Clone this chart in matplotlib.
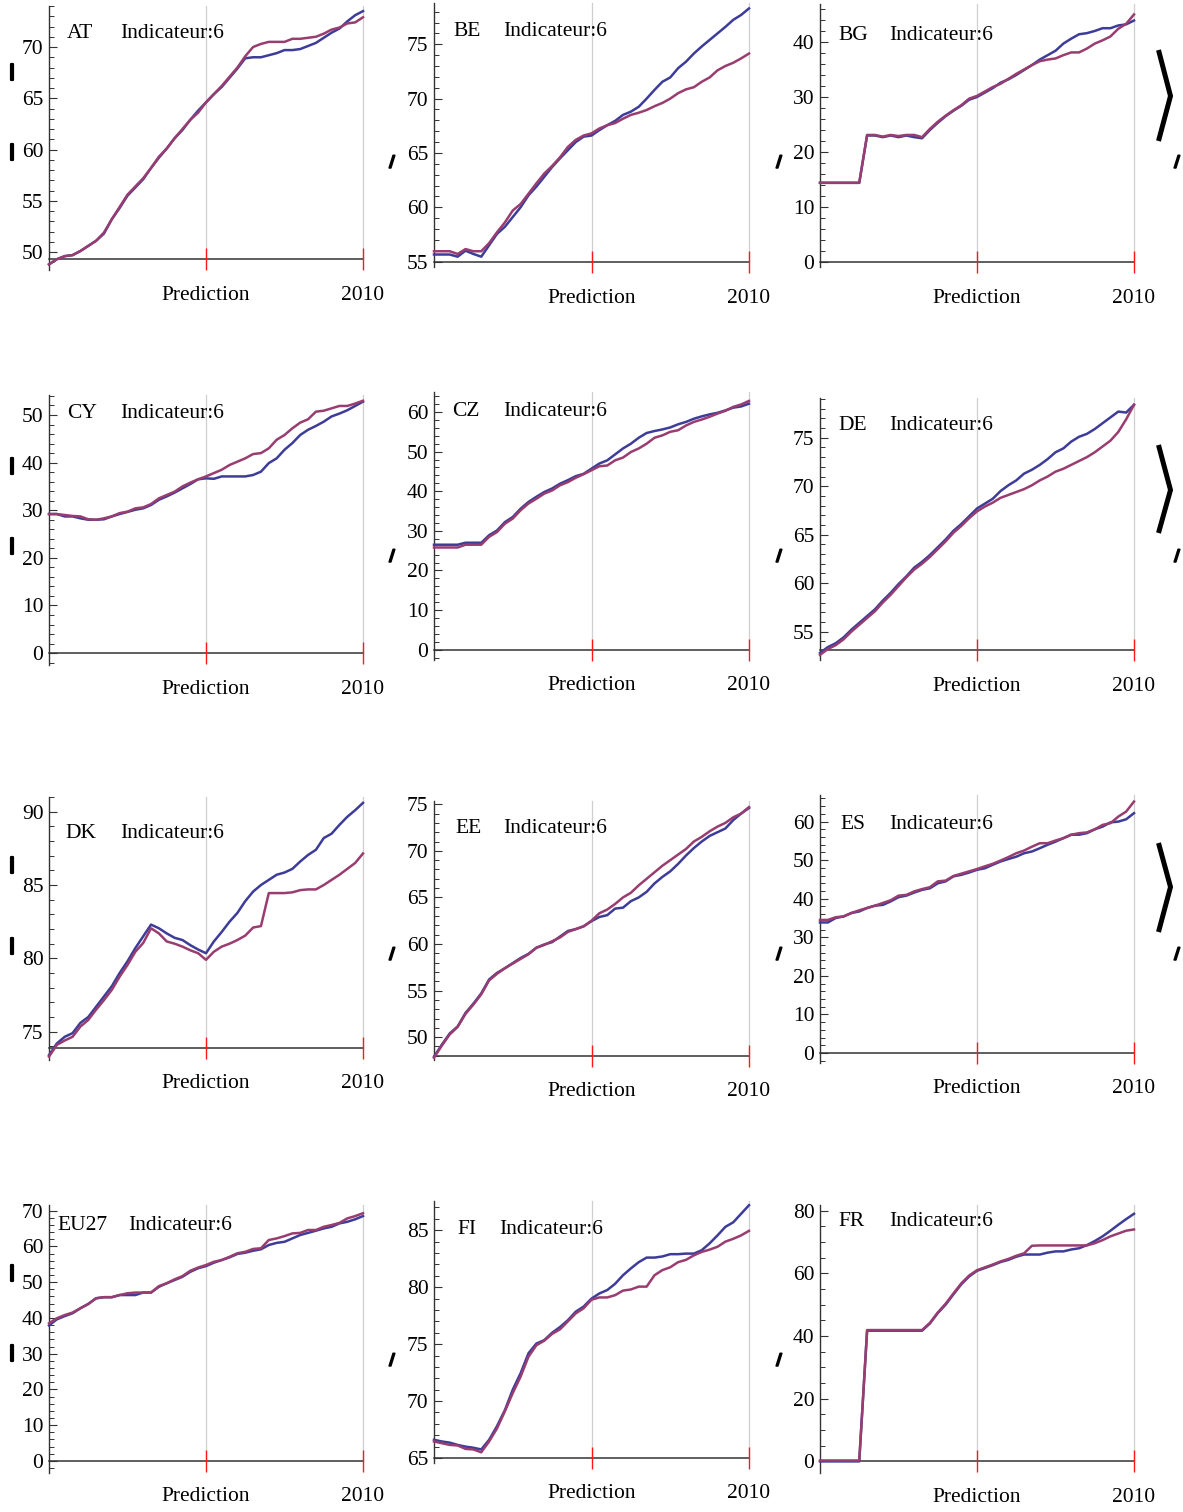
import numpy as np
import matplotlib
matplotlib.use("Agg")
import matplotlib.pyplot as plt
from matplotlib.lines import Line2D
from matplotlib.ticker import MultipleLocator
import matplotlib.patheffects as pe

plt.rcParams["font.family"] = ["Liberation Serif", "DejaVu Serif"]

W, H, DPI = 1183, 1512, 100

# ---------------------------------------------------------------- data
PERIOD = np.arange(41)          # quarter index, 2010 is the last one
PREDICTION_AT = 20
END_AT = 40
X_LABELS = ["Prediction", "2010"]
INDICATOR = "Indicateur:6"
CODES = ["AT", "BE", "BG", "CY", "CZ", "DE", "DK", "EE", "ES", "EU27", "FI", "FR"]

AT_S1 = [48.8, 49.3, 49.6, 49.7, 50.1, 50.6, 51.1, 51.8, 53.2, 54.3,
         55.5, 56.3, 57.1, 58.2, 59.2, 60.1, 61.1, 61.9, 62.9, 63.8,
         64.6, 65.4, 66.1, 67.0, 67.9, 68.9, 69.0, 69.0, 69.2, 69.4,
         69.7, 69.7, 69.8, 70.1, 70.4, 70.9, 71.4, 71.8, 72.5, 73.1, 73.5]
AT_S2 = [48.8, 49.3, 49.6, 49.7, 50.1, 50.6, 51.1, 51.9, 53.2, 54.4,
         55.6, 56.4, 57.2, 58.2, 59.3, 60.1, 61.1, 62.0, 62.9, 63.6,
         64.6, 65.4, 66.2, 67.1, 68.0, 69.1, 70.0, 70.3, 70.5, 70.5,
         70.5, 70.8, 70.8, 70.9, 71.0, 71.3, 71.7, 71.9, 72.3, 72.4, 72.9]

BE_S1 = [55.65, 55.65, 55.65, 55.45, 56.0, 55.7, 55.45, 56.5, 57.55, 58.2,
         59.1, 60.0, 61.1, 61.9, 62.8, 63.7, 64.5, 65.25, 66.0, 66.5,
         66.6, 67.1, 67.55, 67.95, 68.5, 68.8, 69.25, 70.0, 70.8, 71.55,
         71.95, 72.8, 73.4, 74.15, 74.8, 75.4, 76.0, 76.6, 77.25, 77.7, 78.3]
BE_S2 = [55.95, 55.95, 55.95, 55.7, 56.15, 55.95, 55.95, 56.7, 57.7, 58.6,
         59.7, 60.3, 61.25, 62.2, 63.1, 63.8, 64.6, 65.55, 66.2, 66.6,
         66.8, 67.25, 67.55, 67.75, 68.15, 68.5, 68.7, 68.95, 69.3, 69.6,
         70.0, 70.5, 70.85, 71.05, 71.55, 71.95, 72.6, 73.0, 73.3, 73.7, 74.15]

BG_S1 = [14.4, 14.4, 14.4, 14.4, 14.4, 14.4, 23.0, 23.0, 22.7, 23.0,
         22.7, 23.0, 22.7, 22.5, 24.0, 25.3, 26.5, 27.5, 28.4, 29.5,
         30.0, 30.8, 31.6, 32.6, 33.2, 34.0, 34.9, 35.8, 36.8, 37.6,
         38.4, 39.7, 40.6, 41.4, 41.6, 42.0, 42.5, 42.5, 43.0, 43.2, 43.9]
BG_S2 = [14.4, 14.4, 14.4, 14.4, 14.4, 14.4, 23.1, 23.1, 22.8, 23.1,
         22.9, 23.1, 23.1, 22.7, 24.2, 25.5, 26.6, 27.6, 28.5, 29.7,
         30.2, 31.0, 31.8, 32.4, 33.3, 34.2, 35.0, 35.8, 36.5, 36.8,
         37.0, 37.6, 38.1, 38.1, 38.8, 39.7, 40.3, 41.0, 42.4, 43.3, 45.0]

CY_S1 = [29.2, 29.2, 28.7, 28.7, 28.3, 28.0, 28.0, 28.1, 28.7, 29.2,
         29.65, 30.1, 30.4, 31.1, 32.2, 32.9, 33.7, 34.6, 35.5, 36.5,
         36.7, 36.6, 37.1, 37.1, 37.1, 37.1, 37.4, 38.1, 39.9, 40.9,
         42.7, 44.1, 45.8, 46.9, 47.7, 48.6, 49.7, 50.3, 51.0, 51.9, 52.8]
CY_S2 = [29.2, 29.2, 29.0, 28.8, 28.7, 28.1, 28.0, 28.3, 28.7, 29.4,
         29.7, 30.4, 30.6, 31.3, 32.5, 33.2, 33.9, 35.0, 35.8, 36.5,
         37.1, 37.8, 38.5, 39.5, 40.2, 40.9, 41.8, 42.0, 43.0, 44.8,
         45.8, 47.2, 48.4, 49.1, 50.7, 50.9, 51.4, 51.9, 51.9, 52.4, 53.0]

CZ_S1 = [26.5, 26.5, 26.5, 26.5, 27.0, 27.0, 27.0, 28.9, 30.1, 32.2,
         33.5, 35.6, 37.3, 38.6, 39.8, 40.7, 41.9, 42.8, 43.8, 44.4,
         45.7, 47.0, 47.8, 49.3, 50.8, 52.0, 53.5, 54.7, 55.2, 55.6,
         56.1, 56.9, 57.5, 58.3, 58.9, 59.4, 59.8, 60.4, 61.1, 61.4, 62.1]
CZ_S2 = [25.8, 25.8, 25.8, 25.8, 26.5, 26.5, 26.5, 28.5, 29.7, 31.8,
         33.1, 35.2, 36.9, 38.1, 39.4, 40.2, 41.5, 42.3, 43.4, 44.3,
         45.3, 46.3, 46.5, 47.8, 48.5, 49.9, 50.8, 52.0, 53.5, 54.1,
         55.0, 55.4, 56.6, 57.5, 58.1, 58.8, 59.6, 60.3, 61.3, 61.9, 62.8]

DE_S1 = [52.8, 53.4, 53.8, 54.4, 55.2, 55.9, 56.6, 57.3, 58.2, 59.0,
         59.9, 60.7, 61.6, 62.2, 62.9, 63.7, 64.5, 65.4, 66.1, 66.9,
         67.7, 68.2, 68.7, 69.5, 70.1, 70.6, 71.3, 71.7, 72.2, 72.8,
         73.5, 73.9, 74.6, 75.1, 75.4, 75.9, 76.5, 77.1, 77.7, 77.6, 78.4]
DE_S2 = [52.6, 53.2, 53.6, 54.2, 55.0, 55.7, 56.4, 57.1, 58.0, 58.8,
         59.7, 60.6, 61.4, 62.0, 62.7, 63.5, 64.3, 65.2, 65.9, 66.7,
         67.4, 67.9, 68.3, 68.8, 69.1, 69.4, 69.7, 70.1, 70.6, 71.0,
         71.5, 71.8, 72.2, 72.6, 73.0, 73.5, 74.1, 74.7, 75.6, 76.9, 78.4]

DK_S1 = [73.4, 74.2, 74.65, 74.9, 75.6, 76.0, 76.7, 77.4, 78.1, 79.0,
         79.8, 80.7, 81.5, 82.3, 82.05, 81.7, 81.4, 81.25, 80.9, 80.6,
         80.35, 81.15, 81.8, 82.5, 83.1, 83.9, 84.55, 85.0, 85.35, 85.7,
         85.85, 86.1, 86.6, 87.05, 87.4, 88.2, 88.5, 89.1, 89.65, 90.1, 90.6]
DK_S2 = [73.3, 74.1, 74.4, 74.65, 75.35, 75.8, 76.5, 77.15, 77.85, 78.75,
         79.55, 80.45, 81.05, 82.05, 81.7, 81.15, 81.0, 80.8, 80.55, 80.35,
         79.9, 80.45, 80.8, 81.0, 81.25, 81.55, 82.1, 82.2, 84.45, 84.45,
         84.45, 84.5, 84.65, 84.7, 84.7, 85.0, 85.35, 85.7, 86.1, 86.5, 87.15]

EE_S1 = [47.9, 49.2, 50.4, 51.15, 52.6, 53.6, 54.7, 56.2, 56.9, 57.4,
         57.95, 58.5, 58.95, 59.6, 59.95, 60.2, 60.8, 61.4, 61.6, 61.9,
         62.45, 62.9, 63.1, 63.8, 63.9, 64.6, 65.0, 65.6, 66.5, 67.2,
         67.8, 68.6, 69.5, 70.3, 71.0, 71.6, 72.0, 72.4, 73.3, 74.0, 74.6]
EE_S2 = [47.8, 49.1, 50.3, 51.1, 52.5, 53.5, 54.6, 56.1, 56.8, 57.4,
         57.9, 58.4, 58.9, 59.6, 59.9, 60.3, 60.7, 61.3, 61.6, 61.9,
         62.5, 63.3, 63.7, 64.3, 65.0, 65.5, 66.3, 67.0, 67.7, 68.4,
         69.0, 69.6, 70.2, 71.0, 71.5, 72.1, 72.6, 73.0, 73.6, 74.0, 74.7]

ES_S1 = [33.85, 33.85, 35.0, 35.4, 36.3, 36.7, 37.6, 38.2, 38.4, 39.3,
         40.4, 40.8, 41.6, 42.3, 42.7, 44.0, 44.5, 45.8, 46.2, 46.8,
         47.5, 47.9, 48.8, 49.65, 50.3, 50.9, 51.8, 52.25, 53.1, 54.0,
         54.8, 55.7, 56.6, 56.6, 57.0, 58.0, 58.7, 59.8, 60.0, 60.6, 62.2]
ES_S2 = [34.5, 34.5, 35.2, 35.4, 36.3, 37.0, 37.6, 38.2, 38.9, 39.6,
         40.8, 41.0, 41.9, 42.5, 43.0, 44.5, 44.7, 45.9, 46.5, 47.1,
         47.7, 48.4, 49.05, 49.9, 50.8, 51.8, 52.5, 53.5, 54.4, 54.4,
         55.1, 55.7, 56.6, 57.0, 57.2, 58.0, 59.15, 59.6, 61.3, 62.6, 65.2]

EU27_S1 = [37.9, 39.6, 40.5, 41.3, 42.7, 43.9, 45.5, 45.8, 45.8, 46.4,
           46.4, 46.4, 47.1, 47.1, 48.7, 49.7, 50.6, 51.5, 52.9, 53.9,
           54.5, 55.45, 56.2, 56.95, 57.9, 58.25, 58.8, 59.2, 60.4, 61.0,
           61.3, 62.25, 63.2, 63.8, 64.4, 65.05, 65.5, 66.45, 66.9, 67.6, 68.5]
EU27_S2 = [38.5, 39.9, 40.8, 41.5, 42.7, 43.9, 45.5, 45.8, 45.8, 46.4,
           46.9, 47.1, 47.1, 47.1, 48.9, 49.7, 50.8, 51.7, 53.2, 54.1,
           54.8, 55.7, 56.2, 57.1, 58.1, 58.5, 59.3, 59.5, 61.8, 62.25,
           62.9, 63.65, 63.8, 64.6, 64.6, 65.5, 66.0, 66.6, 67.85, 68.5, 69.3]

FI_S1 = [66.6, 66.45, 66.35, 66.15, 66.0, 65.9, 65.75, 66.6, 67.8, 69.2,
         71.0, 72.45, 74.2, 75.05, 75.35, 76.0, 76.5, 77.1, 77.85, 78.3,
         79.0, 79.45, 79.75, 80.3, 81.05, 81.65, 82.2, 82.6, 82.6, 82.7,
         82.9, 82.9, 82.95, 82.95, 83.25, 83.85, 84.55, 85.3, 85.7, 86.45, 87.2]
FI_S2 = [66.45, 66.3, 66.15, 66.1, 65.8, 65.75, 65.5, 66.45, 67.6, 69.1,
         70.7, 72.15, 73.9, 74.9, 75.3, 75.9, 76.3, 77.0, 77.7, 78.15,
         78.9, 79.1, 79.1, 79.3, 79.7, 79.8, 80.05, 80.05, 81.05, 81.5,
         81.75, 82.2, 82.4, 82.8, 83.1, 83.3, 83.55, 84.0, 84.25, 84.55, 84.95]

FR_S1 = [0.0, 0.0, 0.0, 0.0, 0.0, 0.0, 41.7, 41.7, 41.7, 41.7,
         41.7, 41.7, 41.7, 41.7, 44.0, 47.3, 50.0, 53.3, 56.5, 59.0,
         60.8, 61.7, 62.6, 63.6, 64.3, 65.3, 66.0, 66.0, 66.0, 66.6,
         67.0, 67.0, 67.6, 68.0, 69.0, 70.3, 71.8, 73.6, 75.5, 77.3, 79.0]
FR_S2 = [0.3, 0.3, 0.3, 0.3, 0.3, 0.3, 41.9, 41.9, 41.9, 41.9,
         41.9, 41.9, 41.9, 41.9, 44.2, 47.5, 50.3, 53.6, 56.8, 59.3,
         61.0, 61.9, 62.8, 63.8, 64.6, 65.6, 66.4, 68.8, 68.9, 68.9,
         68.9, 68.9, 68.9, 68.9, 68.9, 69.6, 70.6, 71.8, 72.7, 73.6, 74.0]

SERIES = {
    "AT": (AT_S1, AT_S2), "BE": (BE_S1, BE_S2), "BG": (BG_S1, BG_S2),
    "CY": (CY_S1, CY_S2), "CZ": (CZ_S1, CZ_S2), "DE": (DE_S1, DE_S2),
    "DK": (DK_S1, DK_S2), "EE": (EE_S1, EE_S2), "ES": (ES_S1, ES_S2),
    "EU27": (EU27_S1, EU27_S2), "FI": (FI_S1, FI_S2), "FR": (FR_S1, FR_S2),
}

# ---------------------------------------------------------------- layout
COL_LEFT = [49, 434, 820]
COL_RIGHT = [363, 749, 1134]

# code: (row, col, top px, bottom px, y range, axis origin, major, minor,
#        title y px, code x offset, indicator x offset)
LAYOUT = {
    "AT":   (0, 0, 6, 270, (48.25, 74.0), 49.3, 5, 1, 33, 18, 71),
    "BE":   (0, 1, 3, 267, (54.5, 78.8), 54.95, 5, 1, 30, 19, 69),
    "BG":   (0, 2, 4, 267, (-0.9, 46.9), 0.0, 10, 2, 34, 18, 69),
    "CY":   (1, 0, 395, 665, (-2.5, 54.2), 0.0, 10, 2, 413, 18, 71),
    "CZ":   (1, 1, 392, 660, (-2.6, 65.05), 0.0, 10, 2, 411, 18, 69),
    "DE":   (1, 2, 398, 660, (52.07, 79.1), 53.1, 5, 1, 425, 18, 69),
    "DK":   (2, 0, 797, 1060, (73.07, 91.0), 73.9, 5, 1, 832, 16, 71),
    "EE":   (2, 1, 801, 1060, (47.55, 75.35), 48.0, 5, 1, 827, 21, 69),
    "ES":   (2, 2, 795, 1063, (-2.6, 66.9), 0.0, 10, 2, 824, 20, 69),
    "EU27": (3, 0, 1205, 1473, (-3.4, 71.6), 0.0, 10, 2, 1224, 8, 79),
    "FI":   (3, 1, 1201, 1463, (64.56, 87.57), 65.0, 5, 1, 1229, 23, 65),
    "FR":   (3, 2, 1205, 1473, (-3.7, 81.8), 0.0, 20, 5, 1220, 18, 69),
}

BLUE = "#3D3D99"
PURPLE = "#993D70"
AXIS_COLOR = "#333333"
GRID_GREY = "#CFCFCF"
MARK_RED = "#FF1A1A"
FONT_SIZE = 15.5

fig = plt.figure(figsize=(W / DPI, H / DPI), dpi=DPI)
fig.patch.set_facecolor("white")


def px_axes(left, right, top, bottom):
    return fig.add_axes([left / W, 1 - bottom / H, (right - left) / W, (bottom - top) / H])


for code in CODES:
    (row, col, top, bottom, yrange, origin, major, minor,
     title_y, code_dx, ind_dx) = LAYOUT[code]
    s1, s2 = SERIES[code]
    left, right = COL_LEFT[col], COL_RIGHT[col]
    ax = px_axes(left, right, top, bottom)
    ax.set_xlim(PERIOD[0], END_AT)
    ax.set_ylim(*yrange)
    ax.patch.set_alpha(0)
    for side in ("top", "right", "bottom"):
        ax.spines[side].set_visible(False)
    ax.spines["left"].set_color(AXIS_COLOR)
    ax.spines["left"].set_linewidth(1.0)
    ax.set_xticks([])
    ax.yaxis.set_major_locator(MultipleLocator(major))
    ax.yaxis.set_minor_locator(MultipleLocator(minor))
    ax.tick_params(axis="y", which="major", direction="in", length=6, width=0.8,
                   color=AXIS_COLOR, pad=4, labelsize=FONT_SIZE)
    ax.tick_params(axis="y", which="minor", direction="in", length=3.5, width=0.7,
                   color=AXIS_COLOR)

    # reference verticals at the prediction start and at 2010
    for xv in (PREDICTION_AT, END_AT):
        ax.plot([xv, xv], [origin, yrange[1]], color=GRID_GREY, lw=0.9,
                zorder=1, clip_on=False)
    # horizontal axis through the origin
    ax.plot([PERIOD[0], END_AT], [origin, origin], color=AXIS_COLOR, lw=1.1,
            zorder=2, clip_on=False)

    ax.plot(PERIOD, s1, color=BLUE, lw=1.8, zorder=3, clip_on=False,
            solid_joinstyle="round")
    ax.plot(PERIOD, s2, color=PURPLE, lw=1.8, zorder=4, clip_on=False,
            solid_joinstyle="round")

    ax.plot([PREDICTION_AT, END_AT], [origin, origin], ls="none", marker="|",
            ms=16, mew=1.0, color=MARK_RED, zorder=5, clip_on=False)

    for xv, lab in zip((PREDICTION_AT, END_AT), X_LABELS):
        ax.annotate(lab, xy=(xv, origin), xycoords="data", xytext=(0, -36),
                    textcoords="offset pixels", ha="center", va="center",
                    fontsize=FONT_SIZE, annotation_clip=False)

    fig.text((left + code_dx) / W, 1 - (title_y + 1) / H, code, ha="left",
             va="center", fontsize=FONT_SIZE)
    fig.text((left + ind_dx) / W, 1 - (title_y + 1) / H, INDICATOR, ha="left",
             va="center", fontsize=FONT_SIZE)

# list punctuation between the panels
BAR_Y = [72, 152, 466, 546, 865, 946, 1273, 1353]
for y in BAR_Y:
    fig.text(12 / W, 1 - y / H, "|", ha="center", va="center", fontsize=11,
             family="DejaVu Sans", fontweight="bold",
             path_effects=[pe.withStroke(linewidth=1.6, foreground="black")])

COMMA_X = [392, 779, 1177]
COMMA_Y = [162, 556, 954, 1360]
for r, y in enumerate(COMMA_Y):
    xs = COMMA_X if r < 3 else COMMA_X[:2]
    for x in xs:
        fig.text(x / W, 1 - y / H, "/", ha="center", va="center", fontsize=11,
                 family="DejaVu Sans", fontweight="bold",
                 path_effects=[pe.withStroke(linewidth=1.2, foreground="black")])

CHEVRONS = [(50, 96, 141), (445, 490, 533), (843, 887, 932)]
for y0, ym, y1 in CHEVRONS:
    fig.add_artist(Line2D([1158.5 / W, 1170.5 / W, 1158.5 / W],
                          [1 - y0 / H, 1 - ym / H, 1 - y1 / H],
                          transform=fig.transFigure, color="black", lw=3.6,
                          solid_joinstyle="miter", solid_capstyle="butt"))

fig.savefig("out.png", dpi=DPI, facecolor="white")
